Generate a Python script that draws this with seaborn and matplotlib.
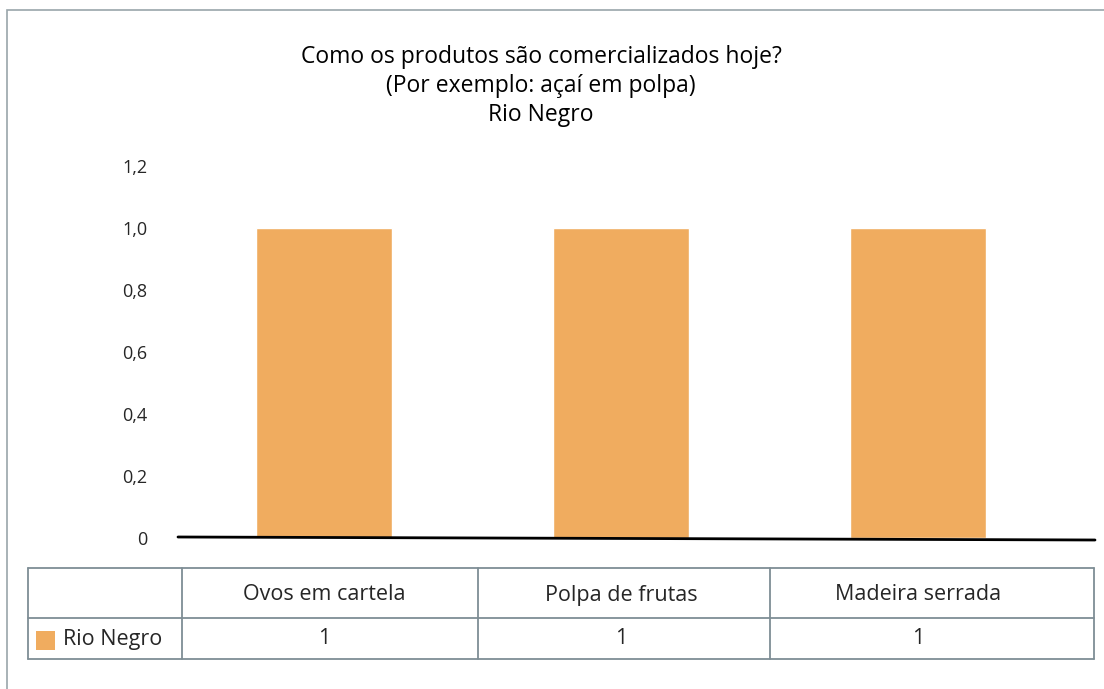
import matplotlib
matplotlib.use("Agg")
import matplotlib.pyplot as plt
import matplotlib.transforms as mtransforms
from matplotlib.patches import Rectangle
from matplotlib.lines import Line2D
import seaborn as sns
import pandas as pd

categories = ["Ovos em cartela", "Polpa de frutas", "Madeira serrada"]
values = [1, 1, 1]
series_name = "Rio Negro"
title_lines = ["Como os produtos são comercializados hoje?", "(Por exemplo: açaí em polpa)", "Rio Negro"]
yticks = [0, 0.2, 0.4, 0.6, 0.8, 1.0, 1.2]
ytick_labels = ["0", "0,2", "0,4", "0,6", "0,8", "1,0", "1,2"]

BAR = "#F0AC5F"
GRID = "#7E8E95"
TXT = "#262626"

sns.set_theme(style="white")
plt.rcParams["font.family"] = ["Open Sans", "DejaVu Sans"]

W, H = 1104, 689
fig = plt.figure(figsize=(W / 100, H / 100), dpi=100)

def fx(px):
    return px / W

def fy(py):
    return 1 - py / H

# axes: x 178..1095, y 0 at 538, 1.2 at 166
ax = fig.add_axes([fx(178), fy(538), fx(1095) - fx(178), (538 - 166) / H])
df = pd.DataFrame({"cat": categories, "val": values})
sns.barplot(data=df, x="cat", y="val", color=BAR, saturation=1, width=0.458, ax=ax, order=categories)
ax.set_xlim(-0.4916, 2.596)
ax.set_ylim(0, 1.2)
ax.set_yticks(yticks)
ax.set_yticklabels(ytick_labels, fontsize=13, color=TXT)
ax.tick_params(axis="y", length=0, pad=22)
ax.set_xticks([])
ax.set_xlabel("")
ax.set_ylabel("")
for s in ax.spines.values():
    s.set_visible(False)
# baseline (slightly sloped, as in the reference)
fig.add_artist(Line2D([fx(178), fx(1095)], [fy(537), fy(540)], color="black", lw=2,
                      transform=fig.transFigure))

# title
for i, t in enumerate(title_lines):
    fig.text(fx(541), fy(57 + 29 * i), t, ha="center", va="center", fontsize=16.5, color="black")

# outer frame
fig.add_artist(Rectangle((fx(7), fy(H + 20)), fx(W + 20), (H + 20 - 10) / H,
                         transform=fig.transFigure, fill=False, edgecolor="#9AA5AA", lw=1.2))

# data table
rows_y = [568, 618, 659]
cols_x = [28, 182, 478, 770, 1094]
for y in rows_y:
    fig.add_artist(Line2D([fx(cols_x[0]), fx(cols_x[-1])], [fy(y), fy(y)], color=GRID, lw=1.3,
                          transform=fig.transFigure))
for x in cols_x:
    fig.add_artist(Line2D([fx(x), fx(x)], [fy(rows_y[0]), fy(rows_y[-1])], color=GRID, lw=1.3,
                          transform=fig.transFigure))

blend = mtransforms.blended_transform_factory(ax.transData, fig.transFigure)
for i, (c, v) in enumerate(zip(categories, values)):
    fig.text(i, fy(595), c, transform=blend, ha="center", va="center", fontsize=15.5, color=TXT)
    fig.text(i, fy(639), str(v), transform=blend, ha="center", va="center", fontsize=15.5, color=TXT)

fig.add_artist(Rectangle((fx(36), fy(650)), fx(19), 19 / H, transform=fig.transFigure,
                         facecolor=BAR, edgecolor="none"))
fig.text(fx(63), fy(639), series_name, ha="left", va="center", fontsize=15.5, color=TXT)

fig.savefig("out.png", dpi=100)
